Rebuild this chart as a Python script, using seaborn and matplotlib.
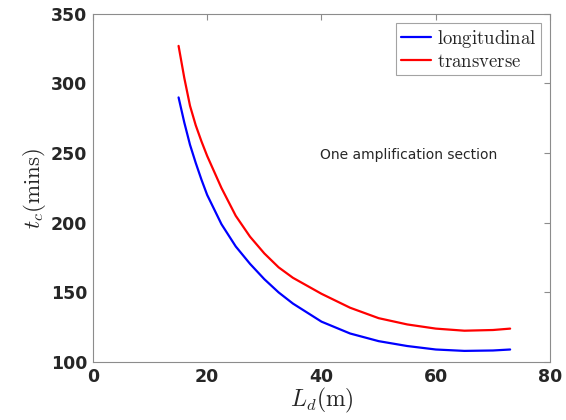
import matplotlib
matplotlib.use("Agg")
import matplotlib.pyplot as plt
import numpy as np
import pandas as pd
import seaborn as sns

# Values
L_d = [15, 16, 17, 18, 19, 20, 22.5, 25, 27.5, 30, 32.5, 35, 40, 45, 50, 55, 60, 65, 70, 73]
t_longitudinal = [290, 272, 256, 243, 231, 220, 199, 183, 170.5, 159.5, 150, 142, 129, 120.5,
                  115, 111.5, 109, 108, 108.3, 109]
t_transverse = [327, 304, 284, 270, 258.5, 248, 225, 205, 190, 178, 168, 160.5, 149, 139,
                131.5, 127, 124, 122.5, 123, 124]
series_names = ["longitudinal", "transverse"]

df = pd.concat([
    pd.DataFrame({"L": L_d, "t": t_longitudinal, "series": series_names[0]}),
    pd.DataFrame({"L": L_d, "t": t_transverse, "series": series_names[1]}),
])

sns.set_theme(style="white")
plt.rcParams["font.family"] = ["DejaVu Sans"]
plt.rcParams["mathtext.fontset"] = "cm"

fig = plt.figure(figsize=(5.66, 4.20), dpi=100)
ax = fig.add_axes([0.164, 0.138, 0.808, 0.829])

sns.lineplot(data=df, x="L", y="t", hue="series", palette=["#0000ff", "#ff0000"],
             linewidth=1.6, ax=ax, legend=False, sort=False)

ax.set_xlim(0, 80)
ax.set_ylim(100, 350)
ax.set_xticks([0, 20, 40, 60, 80])
ax.set_yticks([100, 150, 200, 250, 300, 350])

for spine in ax.spines.values():
    spine.set_visible(True)
    spine.set_color("#8c8c8c")
    spine.set_linewidth(0.8)
ax.tick_params(direction="in", length=4, width=0.8, color="#8c8c8c",
               top=True, right=True, labelsize=12.5, labelcolor="#262626", pad=4)
for lab in ax.get_xticklabels() + ax.get_yticklabels():
    lab.set_fontweight("bold")

ax.set_xlabel(r"$L_d(\mathrm{m})$", fontsize=17, color="#262626", labelpad=0)
ax.set_ylabel(r"$t_c(\mathrm{mins})$", fontsize=16.5, color="#262626", labelpad=2)

ax.text(55.2, 249, "One amplification section", fontsize=10, color="#262626",
        ha="center", va="center")

handles = [plt.Line2D([], [], color="#0000ff", linewidth=1.6),
           plt.Line2D([], [], color="#ff0000", linewidth=1.6)]
leg = ax.legend(handles, [r"$\mathrm{longitudinal}$", r"$\mathrm{transverse}$"],
                loc="upper right", fontsize=13.5, frameon=True, fancybox=False,
                edgecolor="#8c8c8c", borderaxespad=0.5, handlelength=1.6,
                handletextpad=0.3, borderpad=0.25, labelspacing=0.1)
leg.get_frame().set_linewidth(0.8)

fig.savefig("out.png", dpi=100, facecolor="white")
